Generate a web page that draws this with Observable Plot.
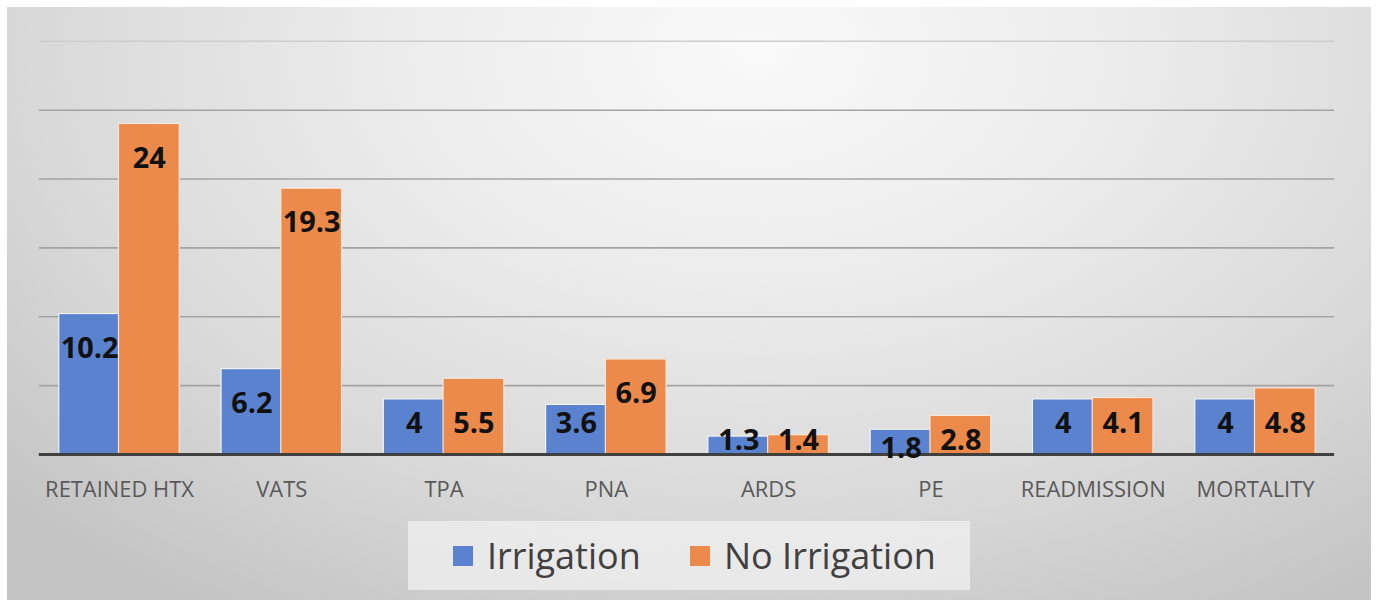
<!DOCTYPE html>
<html>
<head>
<meta charset="utf-8">
<script src="https://cdn.jsdelivr.net/npm/d3@7"></script>
<script src="https://cdn.jsdelivr.net/npm/@observablehq/plot@0.6"></script>
<style>
  html, body { margin: 0; padding: 0; background: #ffffff; width: 1377px; height: 601px; overflow: hidden; }
  #panel {
    position: absolute; left: 7px; top: 7px; width: 1364px; height: 593px;
    background: radial-gradient(ellipse 75% 110% at 55% 8%, #f9f9f9 0%, #ececec 35%, #d9d9d9 70%, #c4c4c4 100%);
  }
  #chart { position: absolute; left: -7px; top: -7px; }
  #legend {
    position: absolute; left: 401px; top: 514px; width: 562px; height: 69px;
    background: rgba(240,240,240,0.75);
    font-family: "Open Sans", sans-serif; font-size: 36px; color: #404040;
  }
  .item { position: absolute; top: 0; height: 69px; display: flex; align-items: center; }
  .sw { width: 20px; height: 20px; margin-right: 14px; }
</style>
</head>
<body>
<div id="panel">
  <div id="chart"></div>
  <div id="legend"></div>
</div>
<script>
const categories = ["RETAINED HTX", "VATS", "TPA", "PNA", "ARDS", "PE", "READMISSION", "MORTALITY"];
const seriesNames = ["Irrigation", "No Irrigation"];
const irrigation = [10.2, 6.2, 4, 3.6, 1.3, 1.8, 4, 4];
const noIrrigation = [24, 19.3, 5.5, 6.9, 1.4, 2.8, 4.1, 4.8];
const gridTicks = [5, 10, 15, 20, 25];
const topTick = [30];

const colors = ["#5a82cf", "#ec8a4b"];

const rows = [];
categories.forEach((c, i) => {
  rows.push({cat: c, series: seriesNames[0], value: irrigation[i]});
  rows.push({cat: c, series: seriesNames[1], value: noIrrigation[i]});
});
const blue = rows.filter(d => d.series === seriesNames[0]);
const orange = rows.filter(d => d.series === seriesNames[1]);

// label vertical placement (data units), mimicking Excel "inside end" labels
const labelY = v => v >= 6 ? v - 2.5 : (v >= 3 ? 2.2 : (v >= 1.5 && v < 2 ? 0.45 : 1.0));
const fmt = v => String(v);

const half = 60;

const chart = Plot.plot({
  width: 1377,
  height: 510,
  marginLeft: 39,
  marginRight: 37,
  marginTop: 41,
  marginBottom: 54,
  style: {background: "transparent", fontFamily: "'Open Sans', sans-serif"},
  x: {domain: categories, paddingInner: 0.26, paddingOuter: 0.12, label: null},
  y: {domain: [0, 30], axis: null},
  marks: [
    Plot.ruleY(topTick, {stroke: "#cdcdcd", strokeWidth: 1.6}),
    Plot.ruleY(gridTicks, {stroke: "#a3a3a3", strokeWidth: 1.6}),
    Plot.barY(blue, {x: "cat", y: "value", fill: colors[0], insetRight: half, stroke: "#f2f2f2", strokeWidth: 1.2}),
    Plot.barY(orange, {x: "cat", y: "value", fill: colors[1], insetLeft: half, stroke: "#f7e6da", strokeWidth: 1.2}),
    Plot.ruleY([0], {stroke: "#404040", strokeWidth: 3}),
    Plot.text(blue, {x: "cat", y: d => labelY(d.value), text: d => fmt(d.value), dx: -half / 2, fontSize: 29, fontWeight: "bold", fill: "#111"}),
    Plot.text(orange, {x: "cat", y: d => labelY(d.value), text: d => fmt(d.value), dx: half / 2, fontSize: 29, fontWeight: "bold", fill: "#111"}),
    Plot.axisX({tickSize: 0, tickPadding: 27, fontSize: 22, fill: "#595959", label: null})
  ]
});
document.getElementById("chart").appendChild(chart);

const legend = document.getElementById("legend");
const lx = [45, 282];
seriesNames.forEach((s, i) => {
  const it = document.createElement("div");
  it.className = "item";
  it.style.left = lx[i] + "px";
  const sw = document.createElement("div");
  sw.className = "sw";
  sw.style.background = colors[i];
  const tx = document.createElement("span");
  tx.textContent = s;
  it.appendChild(sw);
  it.appendChild(tx);
  legend.appendChild(it);
});
</script>
</body>
</html>
